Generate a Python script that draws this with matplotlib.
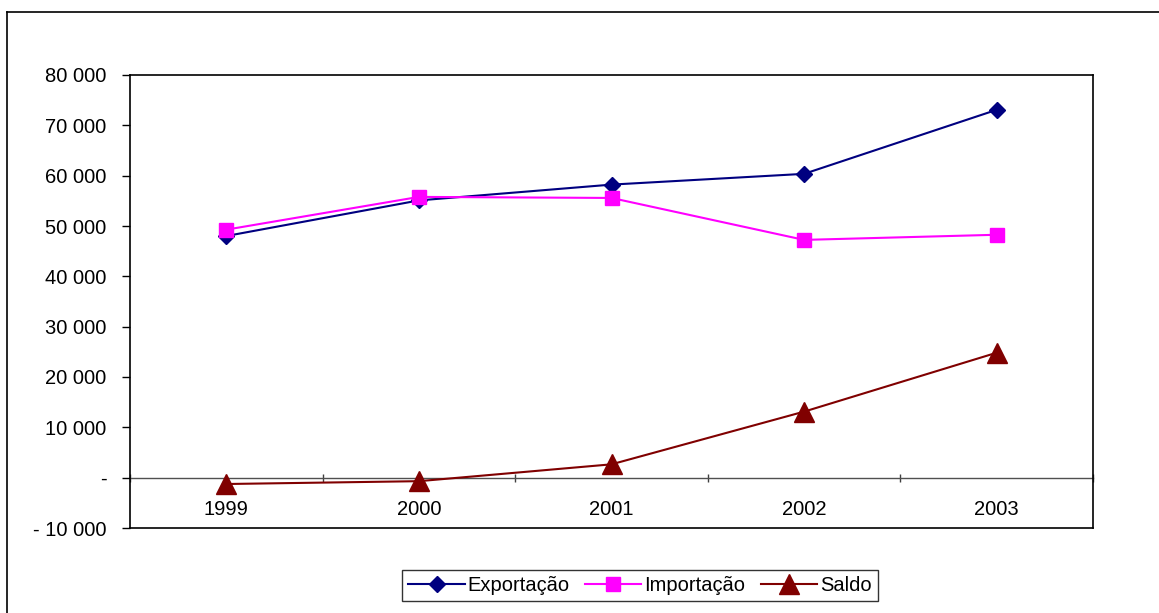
import matplotlib.pyplot as plt
from matplotlib.lines import Line2D
from matplotlib.ticker import FuncFormatter, FixedLocator
import numpy as np

plt.rcParams['font.family'] = ['Liberation Sans', 'DejaVu Sans']

anos = ['1999', '2000', '2001', '2002', '2003']
exportacao = [48011, 55086, 58223, 60362, 73084]
importacao = [49272, 55783, 55572, 47240, 48260]
saldo = [-1261, -697, 2651, 13121, 24824]

W, H = 1159, 613
fig = plt.figure(figsize=(W / 100, H / 100), dpi=100)

# outer chart frame (top and left edges only, the rest runs off the page)
fig.add_artist(Line2D([7 / W, 1.0], [1 - 12 / H, 1 - 12 / H], color='black', lw=1.2))
fig.add_artist(Line2D([7 / W, 7 / W], [0.0, 1 - 12 / H], color='black', lw=1.2))

ax = fig.add_axes([130 / W, 85 / H, 963 / W, 453 / H])
x = np.arange(len(anos))

ax.plot(x, exportacao, color='#000080', lw=1.5, marker='D', ms=8,
        label='Exportação', zorder=3)
ax.plot(x, importacao, color='#FF00FF', lw=1.5, marker='s', ms=10.5,
        label='Importação', zorder=4)
ax.plot(x, saldo, color='#800000', lw=1.5, marker='^', ms=15,
        label='Saldo', zorder=5)

ax.set_xlim(-0.5, len(anos) - 0.5)
ax.set_ylim(-10000, 80000)

def fmt(v, pos):
    if v == 0:
        return '-'
    s = f'{abs(v):,.0f}'.replace(',', ' ')
    return ('- ' + s) if v < 0 else s

ax.yaxis.set_major_locator(FixedLocator(np.arange(-10000, 80001, 10000)))
ax.yaxis.set_major_formatter(FuncFormatter(fmt))
ax.tick_params(axis='y', direction='out', length=6, width=1, labelsize=14.5,
               pad=11, colors='black')
ax.set_xticks([])

for sp in ax.spines.values():
    sp.set_linewidth(1.2)
    sp.set_color('black')

# category axis crossing at zero
sec = ax.secondary_xaxis(1 / 9)
sec.spines['bottom'].set_color('#505050')
sec.spines['bottom'].set_linewidth(1)
sec.set_xticks(x)
sec.set_xticklabels(anos)
sec.set_xticks(np.arange(-0.5, len(anos), 1.0), minor=True)
sec.tick_params(axis='x', which='major', length=0, labelsize=14.5, pad=16)
sec.tick_params(axis='x', which='minor', direction='inout', length=6,
                width=1, color='#404040')

leg = fig.legend(loc='center', bbox_to_anchor=(640 / W, 1 - 585.5 / H),
                 ncol=3, fontsize=14.5, frameon=True, fancybox=False,
                 edgecolor='black', handlelength=2.8, handletextpad=0.15,
                 columnspacing=0.75, borderpad=0.3)
leg.get_frame().set_linewidth(1)

fig.savefig('out.png', dpi=100)
